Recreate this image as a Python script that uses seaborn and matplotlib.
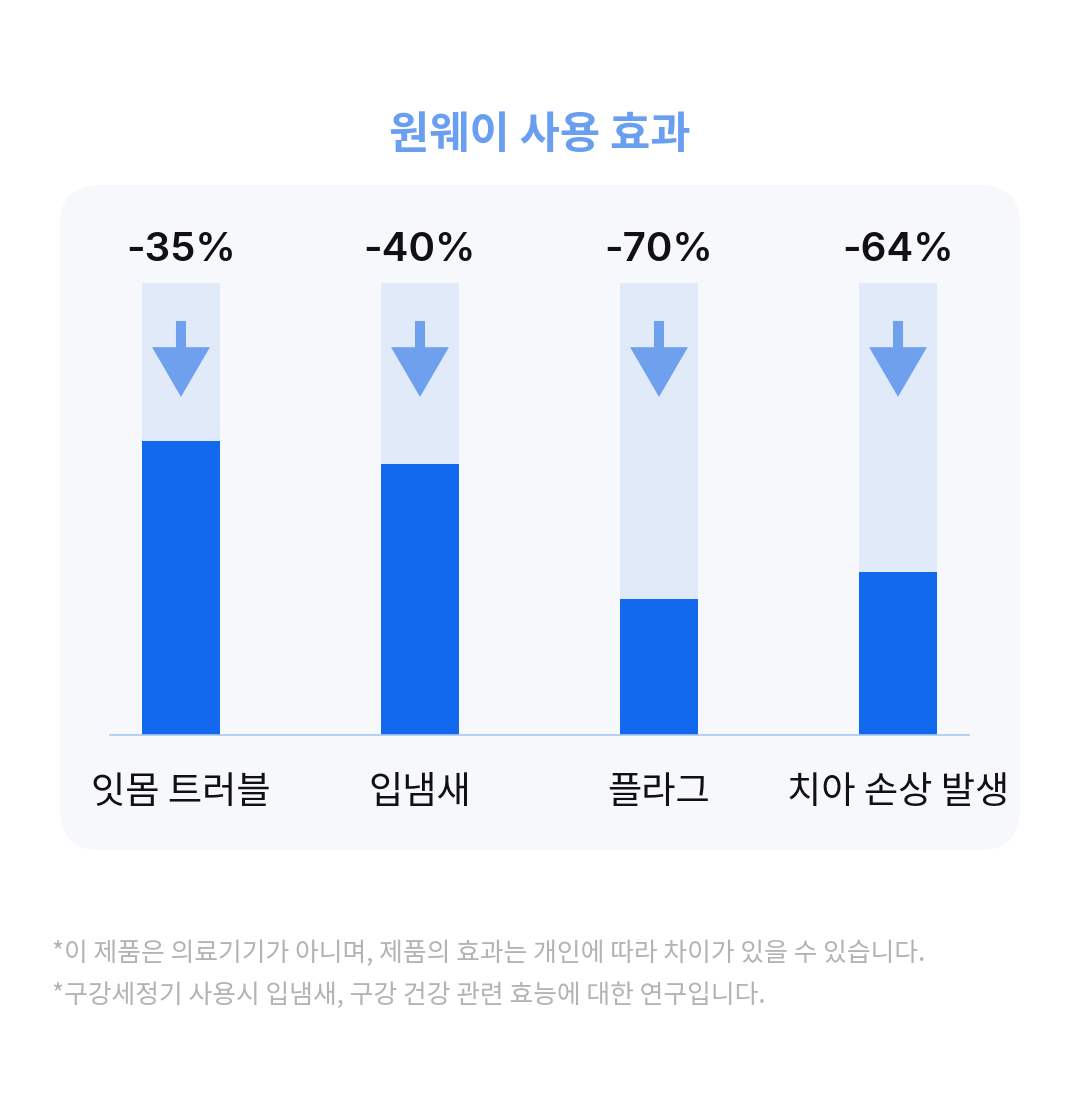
import matplotlib
matplotlib.use("Agg")
import matplotlib.pyplot as plt
import seaborn as sns
from matplotlib.patches import FancyBboxPatch, Polygon

sns.set_style("white")
plt.rcParams['font.family'] = ['Noto Sans CJK KR', 'DejaVu Sans']

# data
categories = ["잇몸 트러블", "입냄새", "플라그", "치아 손상 발생"]
reduction = [35, 40, 70, 64]
before = [100, 100, 100, 100]
after = [100 - r for r in reduction]
labels = [f"-{r}%" for r in reduction]
title = "원웨이 사용 효과"
notes = ["*이 제품은 의료기기가 아니며, 제품의 효과는 개인에 따라 차이가 있을 수 있습니다.",
         "*구강세정기 사용시 입냄새, 구강 건강 관련 효능에 대한 연구입니다."]

W, H = 1080, 1112
fig = plt.figure(figsize=(W / 100, H / 100), dpi=100)
fig.patch.set_facecolor("white")

# panel background
bg = fig.add_axes([0, 0, 1, 1])
bg.set_xlim(0, W)
bg.set_ylim(H, 0)
bg.axis("off")
bg.add_patch(FancyBboxPatch((60 + 40, 185 + 40), 960 - 80, 665 - 80,
                            boxstyle="round,pad=40", fc="#F7F8FC", ec="none"))
bg.text(540, 135, title, ha="center", va="center", fontsize=31.5,
        fontweight="bold", color="#6A9EF0")
bg.text(52, 953, notes[0], ha="left", va="center", fontsize=18.6, color="#B3B3B3")
bg.text(52, 995, notes[1], ha="left", va="center", fontsize=18.6, color="#B3B3B3")

# bar axes
ax = fig.add_axes([110 / W, 1 - 735 / H, 859 / W, 452 / H])
ax.patch.set_alpha(0)
sns.barplot(x=categories, y=before, color="#E1EAF9", saturation=1, width=0.33,
            linewidth=0, ax=ax)
sns.barplot(x=categories, y=after, color="#1269EE", saturation=1, width=0.33,
            linewidth=0, ax=ax)
ax.set_xlim(-0.297, 3.297)
ax.set_ylim(0, 100)
for s in ["top", "right", "left"]:
    ax.spines[s].set_visible(False)
ax.spines["bottom"].set_color("#A9C8F2")
ax.spines["bottom"].set_linewidth(1.2)
ax.set_yticks([])
ax.tick_params(axis="x", length=0, pad=27, labelsize=26.8, labelcolor="#111111")
ax.set_xlabel("")
ax.set_ylabel("")

# arrows and labels
for i, lab in enumerate(labels):
    sw, hw = 0.021, 0.121
    ax.add_patch(Polygon([(i - sw, 91.6), (i + sw, 91.6), (i + sw, 85.8), (i + hw, 85.8),
                          (i, 74.8), (i - hw, 85.8), (i - sw, 85.8)],
                         closed=True, fc="#6FA0EE", ec="none", clip_on=False))
    ax.text(i, 107.3, lab, ha="center", va="center", fontsize=29,
            fontweight="semibold", family=["Inter", "DejaVu Sans"],
            color="#111111", clip_on=False)

fig.savefig("out.png", dpi=100, facecolor="white")
